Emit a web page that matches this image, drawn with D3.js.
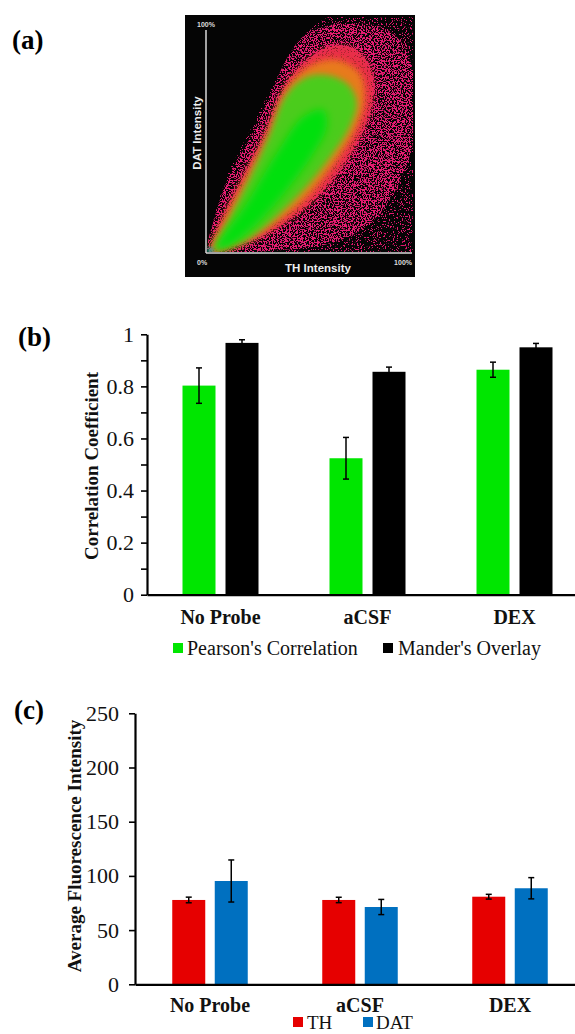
<!DOCTYPE html>
<html><head><meta charset="utf-8">
<script src="https://cdn.jsdelivr.net/npm/d3@7"></script>
<style>body{margin:0;background:#fff} svg{display:block}</style>
</head><body>
<svg id="fig" width="575" height="1034"></svg>
<script>
// ---------- DATA ----------
// Panel (a): density contours of the TH vs DAT colocalisation plot, in % of each axis
const sparseCloud = [[1,0],[3,12],[10,34],[22,56],[34,78],[46,96],[60,106],[80,108],[102,106],[102,-2],[10,-2]];
const magentaEnvelope = [[1.5,0.6],[4.5,17],[10.5,33],[21,51],[30.5,69],[38.5,86],[47,97],[59,102],[72,103],[86,101],[96,93],[101,78],[101,52],[94,32],[82,15],[63,5],[36,1.2],[12,0.2]];
const redBand = [[2.8,0.6],[6.8,13.3],[16.5,31.3],[27.8,52.2],[39.2,76.1],[48.9,86.5],[60.2,92.5],[71.5,91.8],[79.6,83.5],[81.2,70.1],[76.4,55.2],[65,37.2],[48.9,20.8],[29.5,8.8],[11.7,2.1]];
const orangeBand = [[3,0.8],[9,15],[19,33],[30,53],[38,72],[46,81],[56,86],[66,86],[75,80],[77,68],[73,56],[63,41],[49,25],[32,12],[15,3.5]];
const greenRegion = [[3.6,1],[11.7,16.3],[21.4,34.2],[31.1,53.7],[37.5,68.6],[44,76.1],[52.1,79.8],[61.8,79.1],[69.9,74.6],[73.2,67.1],[69.9,56.6],[61.8,44.7],[48.9,29.7],[34.3,16.3],[19.8,5.8],[8.4,1.7]];
const brightCore = [[5.2,1.7],[19.8,22.3],[34.3,44.7],[47.2,61.1],[56.9,64.1],[58.6,56.6],[52.1,44.7],[39.2,28.3],[23,11.8],[10,2.8]];
const densityAxisLabels = ["0%", "100%", "100%"];

// Panel (b)
const categories = ["No Probe", "aCSF", "DEX"];
const corrSeries = ["Pearson's Correlation", "Mander's Overlay"];
const pearson = [0.803, 0.524, 0.864];
const pearsonErr = [0.068, 0.080, 0.029];
const manders = [0.967, 0.856, 0.950];
const mandersErr = [0.012, 0.018, 0.015];
const corrTicks = [0, 0.2, 0.4, 0.6, 0.8, 1];
const corrMinorTicks = [0.1, 0.3, 0.5, 0.7, 0.9];

// Panel (c)
const fluorSeries = ["TH", "DAT"];
const thIntensity = [77.8, 77.8, 80.8];
const thErr = [2.6, 2.5, 2.2];
const datIntensity = [95.3, 71.3, 88.6];
const datErr = [19.4, 7.0, 9.8];
const fluorTicks = [0, 50, 100, 150, 200, 250];

// ---------- DRAW ----------
const svg = d3.select("#fig");
const serif = "'Liberation Serif','Times New Roman',serif";
const sans = "'Liberation Sans',Arial,sans-serif";
const defs = svg.append("defs");

// panel letters
[["(a)", 12, 49], ["(b)", 18, 346], ["(c)", 14, 719]].forEach(([t, x, y]) =>
  svg.append("text").attr("x", x).attr("y", y).attr("font-family", serif)
     .attr("font-weight", "bold").attr("font-size", 27).text(t));

// ----- Panel (a) -----
function speckleFilter(id, thr, seed, freq) {
  const f = defs.append("filter").attr("id", id).attr("x", "-5%").attr("y", "-5%")
    .attr("width", "110%").attr("height", "110%").attr("color-interpolation-filters", "sRGB");
  f.append("feTurbulence").attr("type", "fractalNoise").attr("baseFrequency", freq)
    .attr("numOctaves", 2).attr("seed", seed).attr("result", "n");
  const K = 25;
  f.append("feColorMatrix").attr("in", "n").attr("type", "matrix")
    .attr("values", `0 0 0 0 0  0 0 0 0 0  0 0 0 0 0  ${K} 0 0 0 ${-K * thr}`).attr("result", "m");
  f.append("feComposite").attr("in", "SourceGraphic").attr("in2", "m").attr("operator", "in");
}
speckleFilter("spkSparse", 0.6, 4, 0.75);
speckleFilter("spkMid", 0.5, 7, 0.75);
speckleFilter("spkDense", 0.42, 11, 0.8);
function blurFilter(id, sd) {
  defs.append("filter").attr("id", id).attr("x", "-20%").attr("y", "-20%")
    .attr("width", "140%").attr("height", "140%")
    .append("feGaussianBlur").attr("stdDeviation", sd);
}
blurFilter("blur2", 2);
blurFilter("blur3", 3);
blurFilter("blur4", 4.5);

const box = {x: 185, y: 15, w: 230, h: 262};
svg.append("rect").attr("x", box.x).attr("y", box.y).attr("width", box.w).attr("height", box.h)
   .attr("fill", "#050505");
defs.append("clipPath").attr("id", "boxClip").append("rect")
   .attr("x", 207).attr("y", box.y + 2).attr("width", box.w - 24).attr("height", 235);

const dx = d3.scaleLinear().domain([0, 100]).range([206, 412]);
const dy = d3.scaleLinear().domain([0, 100]).range([253, 30]);
const contour = d3.line().x(d => dx(d[0])).y(d => dy(d[1])).curve(d3.curveCatmullRomClosed.alpha(0.5));

const cloud = svg.append("g").attr("clip-path", "url(#boxClip)");
cloud.append("path").attr("d", contour(sparseCloud)).attr("fill", "#e0186e").attr("filter", "url(#spkSparse)");
cloud.append("path").attr("d", contour(magentaEnvelope)).attr("fill", "#e81c72").attr("filter", "url(#spkMid)");
cloud.append("path").attr("d", contour(redBand)).attr("fill", "#ea2a60").attr("filter", "url(#spkDense)");
const solid = cloud.append("g");
solid.append("path").attr("d", contour(redBand)).attr("fill", "#e8303e").attr("opacity", 0.75).attr("filter", "url(#blur3)");
solid.append("path").attr("d", contour(orangeBand)).attr("fill", "#e87a1c").attr("filter", "url(#blur3)");
solid.append("path").attr("d", contour(greenRegion)).attr("fill", "#4ccc1c").attr("filter", "url(#blur3)");
solid.append("path").attr("d", contour(brightCore)).attr("fill", "#00e00c").attr("filter", "url(#blur4)");
solid.append("circle").attr("cx", dx(2)).attr("cy", dy(1)).attr("r", 3).attr("fill", "#10b8a0").attr("filter", "url(#blur2)");

// axes of density plot
svg.append("line").attr("x1", dx(0)).attr("x2", dx(0)).attr("y1", 30).attr("y2", dy(0))
   .attr("stroke", "#d8d8d8").attr("stroke-width", 1.5);
svg.append("line").attr("x1", dx(0)).attr("x2", dx(100)).attr("y1", dy(0)).attr("y2", dy(0))
   .attr("stroke", "#d8d8d8").attr("stroke-width", 1.5);
svg.append("text").attr("x", dx(0) - 9).attr("y", 27).attr("font-family", sans).attr("font-weight", "bold")
   .attr("font-size", 7).attr("fill", "#dddddd").text(densityAxisLabels[1]);
svg.append("text").attr("x", dx(0) - 9).attr("y", 265).attr("font-family", sans).attr("font-weight", "bold")
   .attr("font-size", 7).attr("fill", "#dddddd").text(densityAxisLabels[0]);
svg.append("text").attr("x", dx(100)).attr("y", 265).attr("text-anchor", "end").attr("font-family", sans)
   .attr("font-weight", "bold").attr("font-size", 7).attr("fill", "#dddddd").text(densityAxisLabels[2]);
svg.append("text").attr("x", 318).attr("y", 272).attr("text-anchor", "middle").attr("font-family", sans)
   .attr("font-weight", "bold").attr("font-size", 11.5).attr("fill", "#eeeeee").text("TH Intensity");
svg.append("text").attr("transform", "translate(201,133) rotate(-90)").attr("text-anchor", "middle")
   .attr("font-family", sans).attr("font-weight", "bold").attr("font-size", 11.5).attr("fill", "#eeeeee")
   .text("DAT Intensity");

// ----- bar panels -----
function barPanel(o) {
  const g = svg.append("g");
  const x0 = d3.scaleBand().domain(categories).range(o.xRange);
  const groupW = 2 * o.barW + o.gap;
  const x1 = d3.scaleBand().domain(o.series).paddingInner(o.gap / (o.barW + o.gap))
    .range([(x0.bandwidth() - groupW) / 2, (x0.bandwidth() + groupW) / 2]);
  const y = d3.scaleLinear().domain(o.domain).range(o.yRange);

  o.series.forEach((s, si) => {
    const vals = o.values[si], errs = o.errors[si];
    categories.forEach((c, ci) => {
      const bx = x0(c) + x1(s);
      g.append("rect").attr("x", bx).attr("y", y(vals[ci])).attr("width", x1.bandwidth())
        .attr("height", y(0) - y(vals[ci])).attr("fill", o.colors[si]);
      const cx = bx + x1.bandwidth() / 2;
      const yt = y(vals[ci] + errs[ci]), yb = y(vals[ci] - errs[ci]);
      g.append("line").attr("x1", cx).attr("x2", cx).attr("y1", yt).attr("y2", yb)
        .attr("stroke", "#000").attr("stroke-width", 1.5);
      [yt, yb].forEach(yy => g.append("line").attr("x1", cx - 3).attr("x2", cx + 3)
        .attr("y1", yy).attr("y2", yy).attr("stroke", "#000").attr("stroke-width", 1.5));
    });
  });

  // y axis
  const ax = d3.axisLeft(y).tickValues(o.ticks).tickFormat(d3.format("~g"))
    .tickSize(6).tickPadding(o.tickPad).tickSizeOuter(0);
  const ya = g.append("g").attr("transform", `translate(${o.xRange[0]},0)`).call(ax);
  if (o.minor) {
    g.append("g").attr("transform", `translate(${o.xRange[0]},0)`)
      .call(d3.axisLeft(y).tickValues(o.minor).tickFormat("").tickSize(6).tickSizeOuter(0))
      .select(".domain").remove();
  }
  g.selectAll(".tick line").attr("stroke", "#000").attr("stroke-width", 1.6);
  ya.select(".domain").attr("stroke", "#000").attr("stroke-width", 2.2);
  ya.selectAll("text").attr("font-family", serif).attr("font-size", 22).attr("fill", "#111");

  // x axis
  const xa = g.append("g").attr("transform", `translate(0,${y(0)})`)
    .call(d3.axisBottom(x0).tickSize(0).tickPadding(o.catPad).tickSizeOuter(0));
  xa.select(".domain").attr("stroke", "#000").attr("stroke-width", 2.2);
  xa.selectAll("text").attr("font-family", serif).attr("font-weight", "bold").attr("font-size", 20)
    .attr("fill", "#111");

  // y title
  g.append("text").attr("transform", `translate(${o.titleX},${o.titleY}) rotate(-90)`)
    .attr("text-anchor", "middle").attr("font-family", serif).attr("font-weight", "bold")
    .attr("font-size", 19).attr("fill", "#111").text(o.title);

  // legend
  o.legend.forEach((L, i) => {
    g.append("rect").attr("x", L[0]).attr("y", o.legendY - 12).attr("width", 10).attr("height", 10)
      .attr("fill", o.colors[i]);
    g.append("text").attr("x", L[1]).attr("y", o.legendY).attr("font-family", serif)
      .attr("font-size", o.legendSize).attr("fill", "#111").text(o.series[i]);
  });
}

barPanel({
  series: corrSeries, values: [pearson, manders], errors: [pearsonErr, mandersErr],
  colors: ["#00e600", "#000000"], xRange: [147, 588], yRange: [594.7, 334.3], domain: [0, 1],
  barW: 33, gap: 10, ticks: corrTicks, minor: corrMinorTicks, tickPad: 7, catPad: 15,
  title: "Correlation Coefficient", titleX: 98, titleY: 466,
  legend: [[173, 187], [383, 398]], legendY: 655, legendSize: 20
});

barPanel({
  series: fluorSeries, values: [thIntensity, datIntensity], errors: [thErr, datErr],
  colors: ["#e60000", "#0070c0"], xRange: [135, 585], yRange: [984.3, 713.3], domain: [0, 250],
  barW: 33, gap: 9.5, ticks: fluorTicks, minor: null, tickPad: 10, catPad: 14,
  title: "Average Fluorescence Intensity", titleX: 81, titleY: 846,
  legend: [[293, 307], [363, 376]], legendY: 1029, legendSize: 19
});
</script>
</body></html>
